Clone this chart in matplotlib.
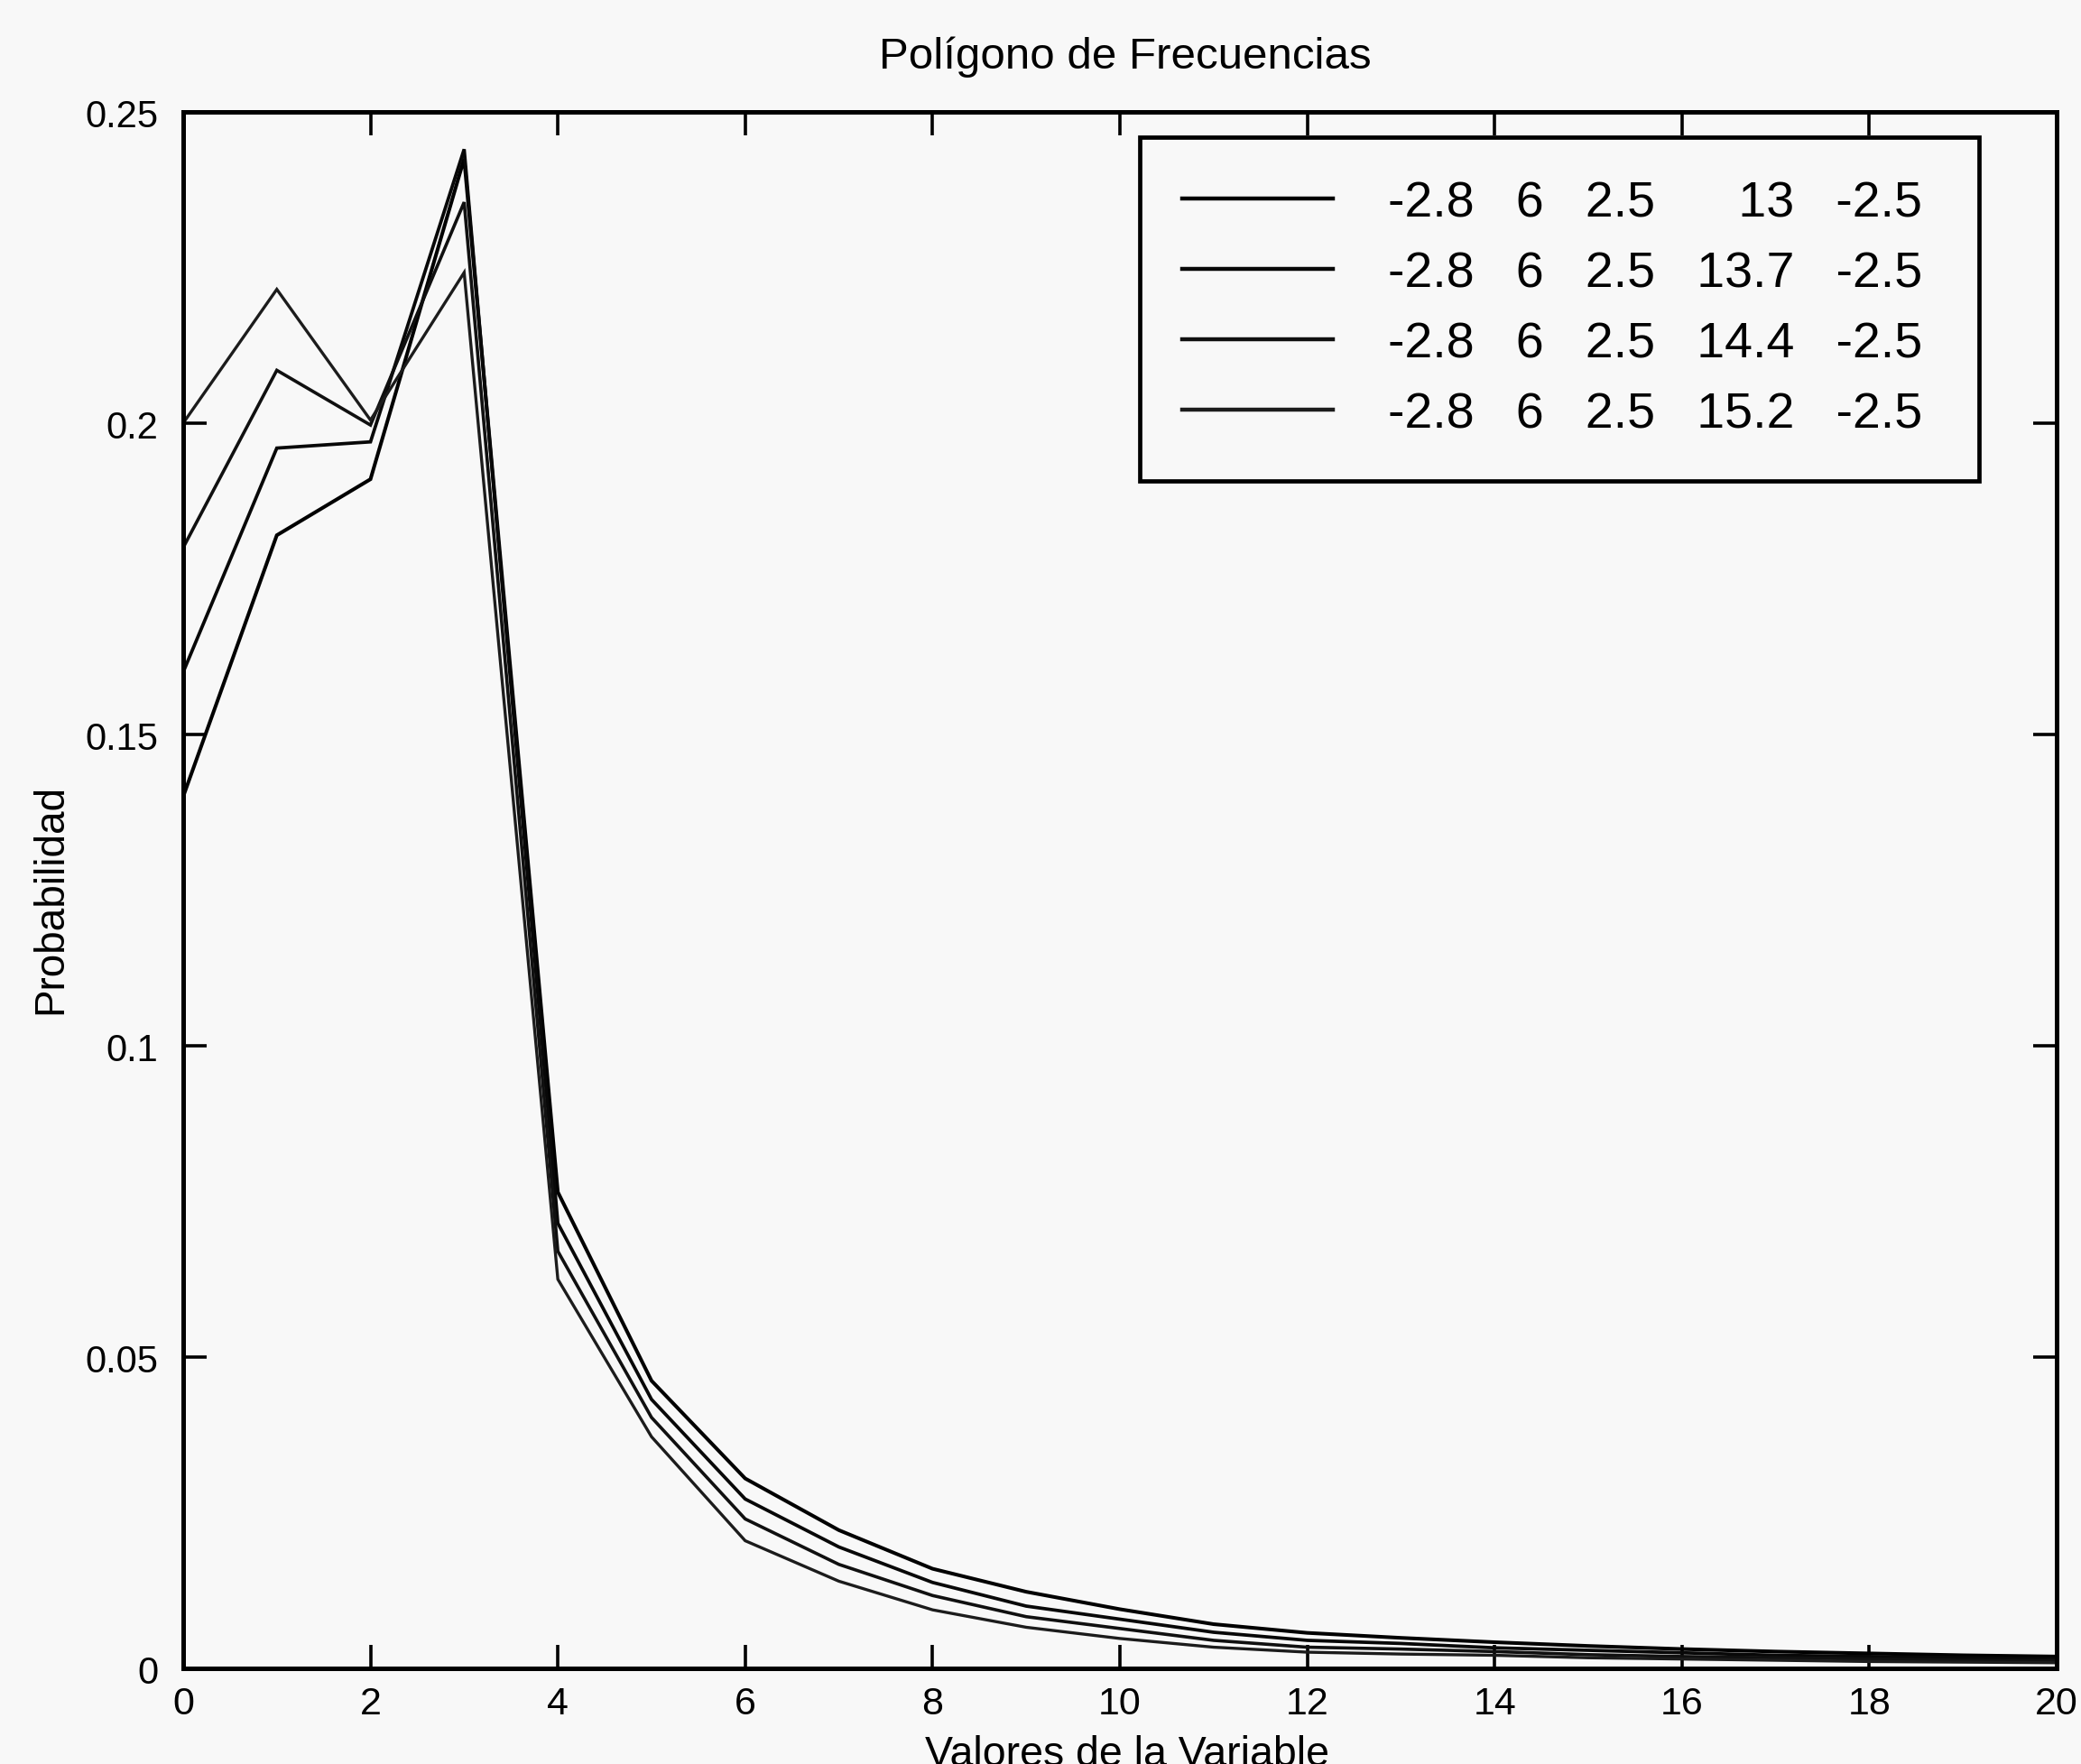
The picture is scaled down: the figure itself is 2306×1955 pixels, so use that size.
import matplotlib
matplotlib.use("Agg")
import matplotlib.pyplot as plt
import numpy as np

# Variable values (integer support) and probabilities for each parameter set
x_values = np.arange(0, 21)
shape_params = [-2.8, 6, 2.5]
scale_params = [13, 13.7, 14.4, 15.2]
tail_param = -2.5

prob_13 = [0.140, 0.182, 0.191, 0.2425, 0.0765, 0.0462, 0.0305, 0.0222, 0.0160,
           0.0123, 0.0095, 0.0071, 0.0057, 0.0049, 0.0042, 0.0036, 0.0031,
           0.0027, 0.0024, 0.0021, 0.0019]
prob_13_7 = [0.160, 0.196, 0.197, 0.2440, 0.0715, 0.0432, 0.0272, 0.0195, 0.0138,
             0.0100, 0.0079, 0.0058, 0.0045, 0.0040, 0.0033, 0.0029, 0.0025,
             0.0021, 0.0019, 0.0017, 0.0015]
prob_14_4 = [0.180, 0.2085, 0.1997, 0.2355, 0.0670, 0.0403, 0.0240, 0.0167, 0.0117,
             0.0083, 0.0064, 0.0045, 0.0034, 0.0031, 0.0027, 0.0022, 0.0019,
             0.0017, 0.0015, 0.0013, 0.0012]
prob_15_2 = [0.200, 0.2215, 0.2005, 0.2242, 0.0625, 0.0372, 0.0205, 0.0140, 0.0094,
             0.0066, 0.0048, 0.0034, 0.0026, 0.0023, 0.0021, 0.0017, 0.0015,
             0.0013, 0.0011, 0.0010, 0.0009]
series = [prob_13, prob_13_7, prob_14_4, prob_15_2]

x_ticks = list(range(0, 21, 2))
y_ticks = [0, 0.05, 0.1, 0.15, 0.2, 0.25]
y_tick_labels = ["0", "0.05", "0.1", "0.15", "0.2", "0.25"]

line_colors = ["#000000", "#080808", "#101010", "#1c1c1c"]
line_widths = [2.9, 2.7, 2.6, 2.4]

FONT = ["Liberation Sans", "DejaVu Sans"]
plt.rcParams["font.family"] = FONT


def glyph_units(s):
    # rough width: digits count double compared to '.', '-' and spaces
    return sum(2 if c.isdigit() else 1 for c in s)


def fmt(v):
    return f"{v:g}"


def build_label(scale):
    cols = [fmt(v) for v in shape_params]
    widest = max(glyph_units(fmt(s)) for s in scale_params)
    s = fmt(scale)
    cols.append(" " * (widest - glyph_units(s)) + s)
    cols.append(fmt(tail_param))
    # a trailing space keeps some room before the right edge of the frame
    return "   ".join(cols) + " "


fig = plt.figure(figsize=(23.06, 19.56), dpi=100, facecolor="#f8f8f8")
ax = fig.add_axes([0.0880, 0.05419, 0.9003, 0.8819])
ax.set_facecolor("#f8f8f8")

for probs, scale, col, lw in zip(series, scale_params, line_colors, line_widths):
    ax.plot(x_values, probs, color=col, lw=lw, label=build_label(scale),
            solid_joinstyle="miter")

ax.set_xlim(0, 20)
ax.set_ylim(0, 0.25)
ax.set_xticks(x_ticks)
ax.set_xticklabels([str(t) for t in x_ticks])
ax.set_yticks(y_ticks)
ax.set_yticklabels(y_tick_labels)

for sp in ax.spines.values():
    sp.set_linewidth(3.6)
    sp.set_color("black")

ax.tick_params(axis="both", direction="in", length=19, width=2.6,
               top=True, right=True, colors="black")
ax.tick_params(axis="y", pad=20, labelsize=30)
ax.tick_params(axis="x", pad=14, labelsize=31)

ax.text(0.503, 1.0284, "Polígono de Frecuencias", transform=ax.transAxes,
        ha="center", va="baseline", fontsize=35.5)
ax.set_xlabel("Valores de la Variable", fontsize=33.5)
ax.xaxis.set_label_coords(0.504, -0.0425)
ax.set_ylabel("Probabilidad", fontsize=33)
ax.yaxis.set_label_coords(-0.0600, 0.495)

leg = ax.legend(loc="upper right", bbox_to_anchor=(0.9586, 0.9838),
                borderaxespad=0, fontsize=40, handlelength=3.0,
                handletextpad=1.1, labelspacing=0.47, borderpad=0.85,
                frameon=True, fancybox=False, framealpha=1)
frame = leg.get_frame()
frame.set_edgecolor("black")
frame.set_linewidth(3.4)
frame.set_facecolor("#f8f8f8")
for h in leg.get_lines():
    h.set_linewidth(3.2)

fig.savefig("out.png", dpi=100, facecolor=fig.get_facecolor())
